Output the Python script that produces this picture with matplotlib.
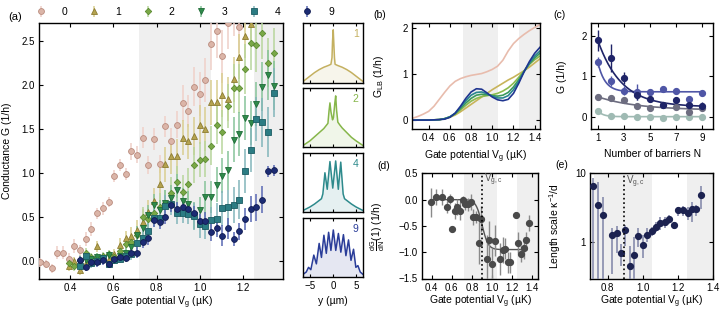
import numpy as np
import matplotlib
matplotlib.use("Agg")
import matplotlib.pyplot as plt

plt.rcParams['font.family'] = ['Liberation Sans', 'DejaVu Sans']
plt.rcParams['mathtext.default'] = 'regular'
plt.rcParams['font.size'] = 7

# ---------------- data: panel (a) ----------------
V_GRID = [0.260, 0.286, 0.313, 0.339, 0.366, 0.392, 0.418, 0.445, 0.471, 0.497,
          0.524, 0.550, 0.577, 0.603, 0.629, 0.656, 0.682, 0.708, 0.735, 0.761,
          0.788, 0.814, 0.840, 0.867, 0.893, 0.920, 0.946, 0.972, 0.999, 1.025,
          1.051, 1.078, 1.104, 1.131, 1.157, 1.183, 1.210, 1.236, 1.262, 1.289,
          1.315, 1.342]

G0 = [-0.01, -0.03, -0.08, 0.10, 0.10, 0.03, 0.17, 0.13, 0.25, 0.37, 0.545, 0.60, 0.67,
      0.97, 1.09, 0.99, 1.245, 1.21, 1.40, 1.095, 1.385, 1.10, 1.53, 1.36, 1.55, 1.795,
      1.70, 1.98, 1.90, 2.05, 2.465, 2.605, 2.325, 2.70, 2.85, 2.655]
E0 = [0.05, 0.04, 0.05, 0.07, 0.07, 0.07, 0.08, 0.06, 0.08, 0.08, 0.06, 0.07, 0.06, 0.07,
      0.07, 0.07, 0.10, 0.10, 0.12, 0.10, 0.12, 0.10, 0.12, 0.15, 0.15, 0.20, 0.18, 0.22,
      0.25, 0.25, 0.30, 0.30, 0.30, 0.30, 0.30, 0.30]
G1 = [-0.05, 0.0, -0.10, -0.02, 0.0, 0.17, 0.05, 0.03, 0.08, 0.19, 0.26, 0.29, 0.35, 0.45,
      0.56, 0.68, 0.88, 1.10, 1.19, 1.19, 1.40, 1.36, 1.42, 1.55, 1.50, 1.80, 1.80, 1.88,
      1.84, 2.06, 2.32, 2.55, 2.69]
E1 = [0.06, 0.05, 0.06, 0.05, 0.06, 0.06, 0.05, 0.06, 0.06, 0.07, 0.08, 0.10, 0.12, 0.14,
      0.14, 0.15, 0.20, 0.20, 0.20, 0.20, 0.20, 0.20, 0.22, 0.22, 0.25, 0.25, 0.25, 0.25,
      0.25, 0.25, 0.25, 0.25, 0.25]
G2 = [-0.02, -0.05, 0.02, 0.10, 0.05, 0.04, 0.06, 0.08, 0.05, 0.12, 0.20, 0.22, 0.30, 0.50,
      0.48, 0.55, 0.62, 0.66, 0.77, 0.90, 0.78, 0.88, 1.09, 1.15, 1.16, 1.31, 1.55, 1.47,
      1.76, 1.96, 1.96, 2.18, 2.47, 2.45, 2.59, 2.25, 2.36]
E2 = [0.07, 0.06, 0.05, 0.05, 0.05, 0.05, 0.05, 0.05, 0.05, 0.06, 0.07, 0.08, 0.10, 0.12,
      0.12, 0.12, 0.15, 0.15, 0.18, 0.18, 0.20, 0.18, 0.20, 0.20, 0.20, 0.22, 0.22, 0.25,
      0.25, 0.28, 0.28, 0.28, 0.30, 0.30, 0.30, 0.28, 0.28]
G3 = [-0.02, 0.02, 0.03, 0.05, 0.04, 0.07, 0.02, 0.06, 0.10, 0.16, 0.30, 0.38, 0.52, 0.64,
      0.58, 0.66, 0.72, 0.81, 0.68, 0.65, 0.52, 0.58, 0.73, 0.73, 0.87, 0.97, 1.03, 1.38,
      1.44, 1.62, 1.57, 1.78, 1.98, 2.11, 1.99]
E3 = [0.06, 0.05, 0.05, 0.05, 0.05, 0.05, 0.05, 0.06, 0.06, 0.08, 0.10, 0.10, 0.12, 0.12,
      0.12, 0.15, 0.15, 0.18, 0.15, 0.15, 0.15, 0.15, 0.18, 0.18, 0.20, 0.20, 0.22, 0.25,
      0.25, 0.25, 0.25, 0.25, 0.28, 0.28, 0.28]
G4 = [-0.05, 0.06, -0.02, 0.00, 0.04, -0.03, 0.02, 0.03, 0.06, 0.08, 0.21, 0.27, 0.34, 0.49,
      0.49, 0.63, 0.65, 0.545, 0.55, 0.54, 0.51, 0.42, 0.40, 0.47, 0.48, 0.60, 0.61, 0.64,
      0.70, 1.02, 1.26, 1.61, 1.575, 1.465, 1.91]
E4 = [0.06, 0.05, 0.05, 0.05, 0.05, 0.05, 0.05, 0.05, 0.06, 0.06, 0.08, 0.08, 0.10, 0.10,
      0.10, 0.12, 0.12, 0.12, 0.12, 0.12, 0.15, 0.15, 0.15, 0.15, 0.18, 0.20, 0.20, 0.20,
      0.22, 0.25, 0.25, 0.25, 0.28, 0.28, 0.28]
G9 = [0.01, -0.06, -0.01, -0.01, 0.01, -0.03, 0.03, 0.05, 0.04, 0.09, 0.10, 0.22, 0.27, 0.47,
      0.45, 0.50, 0.64, 0.59, 0.61, 0.59, 0.55, 0.46, 0.46, 0.33, 0.375, 0.29, 0.375, 0.25,
      0.34, 0.48, 0.595, 0.61, 0.70, 1.02, 1.03]
E9 = [0.05, 0.05, 0.05, 0.05, 0.05, 0.05, 0.05, 0.05, 0.05, 0.05, 0.06, 0.07, 0.08, 0.08,
      0.08, 0.08, 0.08, 0.08, 0.08, 0.08, 0.08, 0.08, 0.10, 0.10, 0.10, 0.12, 0.12, 0.08,
      0.10, 0.12, 0.15, 0.15, 0.15, 0.06, 0.06]
START = {'0': 0, '1': 5, '2': 5, '3': 7, '4': 7, '9': 7}
SHADE = [(0.72, 1.05), (1.25, 1.5)]

# ---------------- data: insets ----------------
PX1 = [-6.5, -6, -5, -4, -3, -2, -1, -0.45, -0.22, -0.1, 0.05, 0.2, 0.32, 0.45, 1, 2, 3, 4, 5, 6, 6.5]
PY1 = [0.02, 0.05, 0.11, 0.17, 0.22, 0.26, 0.29, 0.31, 0.42, 0.70, 0.89, 0.62, 0.42, 0.31, 0.29, 0.26, 0.22, 0.17, 0.11, 0.05, 0.02]
PX2 = [-6.5, -5, -4, -3, -2, -1.5, -1.1, -0.85, -0.66, -0.45, -0.1, 0.1, 0.4, 0.58, 0.78, 1.05, 1.5, 2, 3, 4, 5, 6.5]
PY2 = [0.02, 0.10, 0.17, 0.24, 0.31, 0.36, 0.40, 0.62, 0.75, 0.60, 0.46, 0.50, 0.75, 0.87, 0.62, 0.42, 0.37, 0.32, 0.24, 0.16, 0.10, 0.02]
PX4 = [-6.5, -5, -4, -3, -2.5, -2.2, -1.75, -1.25, -0.66, -0.05, 0.58, 1.15, 1.68, 2.2, 2.5, 3, 4, 5, 6.5]
PY4 = [0.02, 0.08, 0.13, 0.19, 0.22, 0.30, 0.66, 0.38, 0.85, 0.40, 0.86, 0.38, 0.84, 0.30, 0.22, 0.19, 0.13, 0.08, 0.02]
PX9 = [-6.5, -5.8, -5.3, -4.8, -4.16, -3.6, -3.0, -2.5, -1.97, -1.45, -0.95, -0.45, 0.07, 0.6,
       1.17, 1.7, 2.26, 2.8, 3.36, 3.9, 4.45, 4.95, 5.4, 5.9, 6.5]
PY9 = [0.04, 0.08, 0.16, 0.12, 0.37, 0.22, 0.57, 0.33, 0.71, 0.40, 0.76, 0.45, 0.80, 0.45,
       0.74, 0.42, 0.72, 0.36, 0.63, 0.28, 0.47, 0.16, 0.19, 0.08, 0.04]

# ---------------- data: panel (b) ----------------
VB = [0.25, 0.30, 0.35, 0.40, 0.45, 0.50, 0.55, 0.60, 0.65, 0.70, 0.75, 0.80, 0.85,
      0.90, 0.95, 1.00, 1.05, 1.10, 1.15, 1.20, 1.25, 1.30, 1.35, 1.40, 1.45]
GB0 = [0.04, 0.08, 0.13, 0.19, 0.30, 0.45, 0.60, 0.74, 0.84, 0.90, 0.94, 0.97, 0.99,
       1.01, 1.05, 1.10, 1.17, 1.30, 1.50, 1.66, 1.77, 1.86, 1.94, 2.01, 2.07]
GB1 = [0, 0, 0, 0, 0.005, 0.01, 0.03, 0.06, 0.11, 0.18, 0.26, 0.34, 0.42, 0.50, 0.58,
       0.66, 0.73, 0.80, 0.87, 0.93, 1.00, 1.07, 1.15, 1.24, 1.33]
GB2 = [0, 0, 0, 0, 0.005, 0.01, 0.03, 0.07, 0.13, 0.22, 0.32, 0.41, 0.47, 0.51, 0.53,
       0.55, 0.58, 0.63, 0.70, 0.80, 0.93, 1.07, 1.21, 1.31, 1.39]
GB3 = [0, 0, 0, 0, 0.005, 0.01, 0.03, 0.07, 0.14, 0.25, 0.37, 0.47, 0.54, 0.56, 0.55,
       0.53, 0.52, 0.54, 0.60, 0.72, 0.88, 1.06, 1.22, 1.35, 1.45]
GB4 = [0, 0, 0, 0, 0.005, 0.01, 0.03, 0.07, 0.15, 0.28, 0.42, 0.54, 0.60, 0.61, 0.57,
       0.52, 0.48, 0.48, 0.53, 0.66, 0.84, 1.05, 1.24, 1.39, 1.50]
GB9 = [0, 0, 0, 0, 0.005, 0.01, 0.02, 0.06, 0.15, 0.30, 0.47, 0.61, 0.68, 0.67, 0.59,
       0.50, 0.44, 0.42, 0.45, 0.58, 0.80, 1.05, 1.27, 1.45, 1.58]

# ---------------- data: panel (c) ----------------
NB = [1, 2, 3, 4, 5, 6, 7, 8, 9]
GC_A = [1.88, 1.45, 0.95, 0.53, 0.45, 0.30, 0.43, 0.30, 0.28]
EC_A = [0.25, 0.35, 0.15, 0.10, 0.08, 0.06, 0.06, 0.08, 0.08]
GC_B = [1.35, 0.88, 0.65, 0.62, 0.62, 0.68, 0.65, 0.45, 0.60]
EC_B = [0.12, 0.12, 0.10, 0.20, 0.06, 0.05, 0.05, 0.06, 0.05]
GC_C = [0.50, 0.48, 0.42, 0.27, 0.23, 0.30, 0.25, 0.12, 0.22]
EC_C = [0.03, 0.03, 0.03, 0.03, 0.03, 0.03, 0.03, 0.03, 0.03]
GC_D = [0.15, 0.02, 0.03, 0.00, 0.01, -0.03, 0.00, 0.01, 0.01]
EC_D = [0.02, 0.02, 0.02, 0.02, 0.02, 0.02, 0.02, 0.02, 0.02]
# exponential fit parameters (amplitude, decay length, offset)
FIT_C = [(1.65, 1.8, 0.25), (0.75, 0.55, 0.62), (0.33, 3.0, 0.17), (0.15, 0.4, 0.01)]

# ---------------- data: panel (d) ----------------
VD = [0.392, 0.445, 0.497, 0.550, 0.577, 0.603, 0.629, 0.656, 0.682, 0.708, 0.735, 0.761,
      0.788, 0.814, 0.840, 0.867, 0.893, 0.946, 0.972, 0.999, 1.025, 1.078, 1.104, 1.131,
      1.157, 1.183, 1.236, 1.262, 1.289, 1.315, 1.342, 1.368]
DD = [-0.05, 0.05, 0.05, -0.14, 0.01, -0.56, -0.22, -0.14, -0.21, -0.01, -0.09, -0.09,
      -0.04, -0.33, -0.33, -0.83, -0.37, -1.13, -0.76, -1.22, -0.78, -1.13, -0.96, -0.93,
      -1.19, -1.19, -0.29, -0.82, -1.04, -0.92, -0.76, -0.44]
ED = [0.28, 0.15, 0.15, 0.12, 0.10, 0.05, 0.15, 0.15, 0.18, 0.08, 0.10, 0.12,
      0.15, 0.15, 0.12, 0.40, 0.25, 0.45, 0.35, 0.30, 0.30, 0.30, 0.25, 0.20,
      0.20, 0.20, 0.05, 0.20, 0.15, 0.20, 0.15, 0.15]
FIT_D = (-0.95, 0.90, 0.06)   # step amplitude, centre, width
VGC = 0.895

# ---------------- data: panel (e) ----------------
VE = [0.715, 0.747, 0.772, 0.823, 0.852, 0.874, 0.899, 0.927, 0.950, 0.974, 0.999, 1.026,
      1.050, 1.074, 1.100, 1.124, 1.150, 1.176, 1.200, 1.227, 1.255, 1.278, 1.303, 1.330]
LE = [6.5, 3.5, 2.45, 1.28, 1.37, 0.70, 1.50, 0.46, 0.66, 1.25, 0.93, 1.29,
      1.45, 1.68, 1.92, 1.95, 2.19, 1.77, 2.92, 2.92, 2.68, 3.09, 3.06, 4.83]
LE_LO = [0.2, 0.2, 0.2, 0.35, 0.7, 0.45, 0.9, 0.3, 0.3, 0.85, 0.6, 1.0,
         1.25, 1.4, 1.5, 1.6, 1.85, 1.55, 2.4, 2.4, 2.1, 2.0, 2.4, 3.0]
LE_HI = [8.5, 7.5, 4.5, 1.6, 1.7, 0.95, 1.8, 0.9, 1.2, 1.6, 1.3, 1.6,
         1.65, 1.95, 2.3, 2.3, 2.5, 2.0, 3.3, 3.4, 3.3, 3.8, 3.5, 6.5]

# ---------------- figure ----------------
W, H = 721, 311
fig = plt.figure(figsize=(W / 100, H / 100), dpi=100)


def ax_px(l, t, r, b):
    return fig.add_axes([l / W, 1 - b / H, (r - l) / W, (b - t) / H])


def style(ax):
    ax.tick_params(direction='in', top=True, right=True, length=3, width=0.8,
                   labelsize=7, pad=3)
    for s in ax.spines.values():
        s.set_linewidth(1.0)


def shade(ax):
    for a, b in SHADE:
        ax.axvspan(a, b, color='#efefef', lw=0, zorder=0)


# panel (a)
axa = ax_px(39, 23, 283, 279)
style(axa)
shade(axa)
series = [
    ('0', G0, E0, 'o', '#dbb5a8', '#b98b7d', '#efd0c8'),
    ('1', G1, E1, '^', '#b5a34f', '#8c7c32', '#d9ce90'),
    ('2', G2, E2, 'D', '#7aa847', '#5a8a30', '#b8d69c'),
    ('3', G3, E3, 'v', '#2f8b4b', '#1f6b37', '#86c39a'),
    ('4', G4, E4, 's', '#2b7c83', '#1c5c62', '#82b5ba'),
    ('9', G9, E9, 'o', '#1c2b73', '#111c52', '#5968b3'),
]
handles = []
for lab, G, E, mk, fc, ec, erc in series:
    s0 = START[lab]
    V = V_GRID[s0:s0 + len(G)]
    ms = 3.3 if mk == 'D' else 4.2
    h = axa.errorbar(V, G, yerr=E, fmt=mk, ms=ms, mfc=fc, mec=ec, mew=0.6,
                     ecolor=erc, elinewidth=1.1, capsize=0, label=lab, zorder=3)
    handles.append(h)
axa.set_xlim(0.255, 1.385)
axa.set_ylim(-0.2, 2.7)
axa.set_xticks([0.4, 0.6, 0.8, 1.0, 1.2])
axa.set_yticks([0.0, 0.5, 1.0, 1.5, 2.0, 2.5])
axa.set_yticklabels(['0.0', '0.5', '1.0', '1.5', '2.0', '2.5'])
axa.set_xlabel('Gate potential V$_g$ (µK)', fontsize=7.5, labelpad=1)
axa.set_ylabel('Conductance G (1/h)', fontsize=7.5)
axa.yaxis.set_label_coords(-0.11, 0.5)

fig.legend(handles, [s[0] for s in series], ncol=6, loc='center left',
           bbox_to_anchor=(36 / W, 1 - 12 / H), frameon=False, fontsize=7.5,
           handlelength=1.0, handletextpad=1.5, columnspacing=2.05,
           borderpad=0, borderaxespad=0)

# insets
insets = [('1', PX1, PY1, '#c4b060', 23.3, 82.7),
          ('2', PX2, PY2, '#86b64a', 88.3, 146.7),
          ('4', PX4, PY4, '#2d8a8c', 152.7, 211.7),
          ('9', PX9, PY9, '#2a3d99', 218.3, 276.7)]
for i, (lab, px, py, col, t, b) in enumerate(insets):
    ax = ax_px(303, t, 363, b)
    style(ax)
    ax.tick_params(left=False, right=False, labelleft=False, length=2.5)
    ax.fill_between(px, 0, py, color=col, alpha=0.12, lw=0)
    ax.plot(px, py, color=col, lw=1.1)
    ax.set_xlim(-6.5, 6.5)
    ax.set_ylim(0, 1.0)
    ax.set_xticks([-5, 0, 5])
    ax.text(0.93, 0.9, lab, color=col, transform=ax.transAxes, ha='right',
            va='top', fontsize=7.5)
    if i < 3:
        ax.tick_params(labelbottom=False)
    else:
        ax.set_xticklabels(['−5', '0', '5'])
        ax.set_xlabel('y (µm)', fontsize=7.5, labelpad=4)

# panel (b)
axb = ax_px(411.7, 23.3, 540, 129.3)
style(axb)
shade(axb)
bcurves = [(GB0, '#e8bcad'), (GB1, '#c8b45a'), (GB2, '#8cbb4e'), (GB3, '#3c9a5c'),
           (GB4, '#2a8590'), (GB9, '#1f3590')]
for G, c in bcurves:
    axb.plot(VB, G, color=c, lw=1.2)
axb.set_xlim(0.24, 1.45)
axb.set_ylim(-0.2, 2.1)
axb.set_xticks([0.4, 0.6, 0.8, 1.0, 1.2, 1.4])
axb.set_yticks([0, 1, 2])
axb.set_xlabel('Gate potential V$_g$ (µK)', fontsize=7.5, labelpad=4)
axb.set_ylabel('G$_{LB}$ (1/h)', fontsize=7.5)
axb.yaxis.set_label_coords(-0.2, 0.5)

# panel (c)
axc = ax_px(591, 23.3, 713.3, 129.3)
style(axc)
cser = [(GC_A, EC_A, '#1f2468', FIT_C[0]), (GC_B, EC_B, '#4f56a6', FIT_C[1]),
        (GC_C, EC_C, '#6d6d80', FIT_C[2]), (GC_D, EC_D, '#9fbab3', FIT_C[3])]
nfine = np.linspace(1, 9, 200)
for G, E, c, (amp, L, off) in cser[::-1]:
    axc.plot(nfine, amp * np.exp(-(nfine - 1) / L) + off, color=c, lw=1.2, zorder=2)
    axc.errorbar(NB, G, yerr=E, fmt='o', ms=4.2, mfc=c, mec=c, ecolor=c,
                 elinewidth=1.0, capsize=0, zorder=3)
axc.set_xlim(0.5, 9.85)
axc.set_ylim(-0.3, 2.3)
axc.set_xticks([1, 3, 5, 7, 9])
axc.set_yticks([0, 1, 2])
axc.set_xlabel('Number of barriers N', fontsize=7.5, labelpad=4)
axc.set_ylabel('G (1/h)', fontsize=7.5)
axc.yaxis.set_label_coords(-0.2, 0.5)

# panel (d)
axd = ax_px(421.7, 173.3, 538.3, 278.5)
style(axd)
shade(axd)
vfine = np.linspace(0.39, 1.35, 200)
A, vc, w = FIT_D
axd.plot(vfine, A / 2 * (1 + np.tanh((vfine - vc) / w)), color='#555555', lw=1.0, zorder=2)
axd.errorbar(VD, DD, yerr=ED, fmt='o', ms=4.2, mfc='#4a4a4a', mec='#4a4a4a',
             ecolor='#8a8a8a', elinewidth=1.0, capsize=0, zorder=3)
axd.axvline(VGC, ls=':', color='k', lw=1.2, zorder=4)
axd.text(VGC + 0.02, 0.38, 'V$_{g,c}$', color='#555555', fontsize=7, va='center')
axd.set_xlim(0.3, 1.46)
axd.set_ylim(-1.5, 0.5)
axd.set_xticks([0.4, 0.6, 0.8, 1.0, 1.2, 1.4])
axd.set_yticks([-1.5, -1.0, -0.5, 0.0, 0.5])
axd.set_yticklabels(['−1.5', '−1.0', '−0.5', '0.0', '0.5'])
axd.set_xlabel('Gate potential V$_g$ (µK)', fontsize=7.5, labelpad=0.5)
axd.set_ylabel(r'$\frac{dG}{dN}$(1) (1/h)', fontsize=7.5)
axd.yaxis.set_label_coords(-0.3, 0.5)

# panel (e)
axe = ax_px(590, 173.3, 713.3, 278.5)
style(axe)
shade(axe)
yerr_e = [np.array(LE) - np.array(LE_LO), np.array(LE_HI) - np.array(LE)]
axe.errorbar(VE, LE, yerr=yerr_e, fmt='o', ms=4.2, mfc='#1c2250', mec='#1c2250',
             ecolor='#7e83a6', elinewidth=1.1, capsize=0, zorder=3)
axe.axvline(VGC, ls=':', color='k', lw=1.2, zorder=4)
axe.set_yscale('log')
axe.set_xlim(0.7, 1.4)
axe.set_ylim(0.3, 10)
axe.set_yticks([1, 10])
axe.set_yticklabels(['1', '10'])
axe.yaxis.set_minor_locator(matplotlib.ticker.NullLocator())
axe.set_xticks([0.8, 1.0, 1.2, 1.4])
axe.text(VGC + 0.012, 7.5, 'V$_{g,c}$', color='#555555', fontsize=7, va='center')
axe.set_xlabel('Gate potential V$_g$ (µK)', fontsize=7.5, labelpad=0.5)
axe.set_ylabel('Length scale κ$^{-1}$/d', fontsize=7.5)
axe.yaxis.set_label_coords(-0.22, 0.5)

# panel labels
for lab, x, y in [('(a)', 8, 17), ('(b)', 373, 15), ('(c)', 553, 15),
                  ('(d)', 377, 166), ('(e)', 555, 165)]:
    fig.text(x / W, 1 - y / H, lab, fontsize=8 if lab == '(a)' else 7.5,
             ha='left', va='center')

fig.savefig('out.png', dpi=100)
